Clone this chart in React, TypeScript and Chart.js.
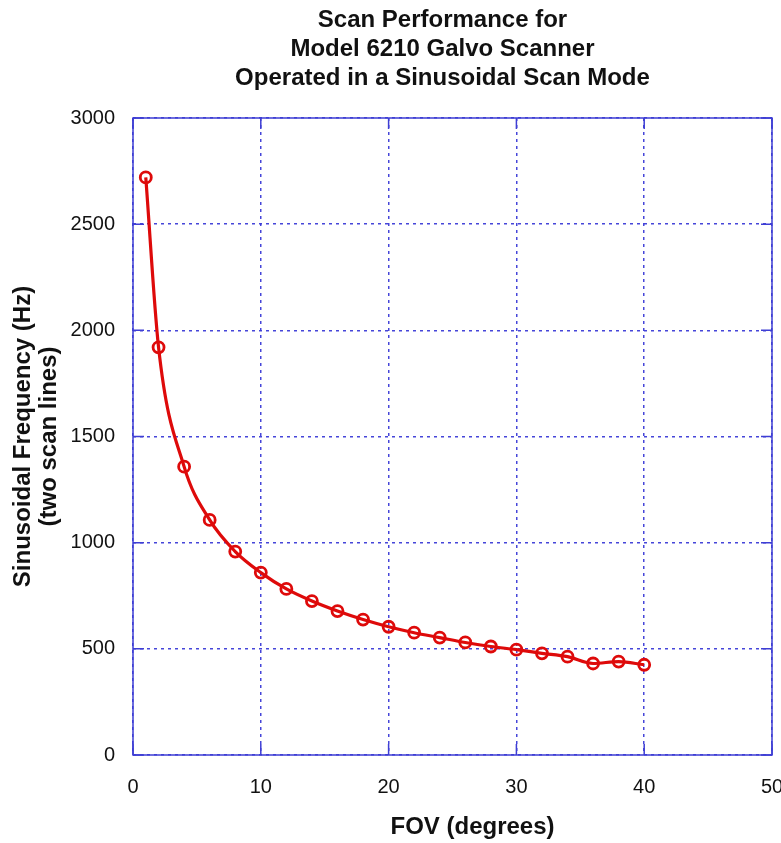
import React, { useEffect, useRef } from "react";
import { Chart, registerables } from "chart.js";

Chart.register(...registerables);

const fovDegrees = [1, 2, 4, 6, 8, 10, 12, 14, 16, 18, 20, 22, 24, 26, 28, 30, 32, 34, 36, 38, 40];
const frequencyHz = [2720, 1920, 1358, 1107, 958, 859, 782, 725, 678, 638, 604, 576, 553, 530, 511, 496, 479, 463, 431, 440, 425];
const xTicks = [0, 10, 20, 30, 40, 50];
const yTicks = [0, 500, 1000, 1500, 2000, 2500, 3000];
const titleLines = ["Scan Performance for   ", "Model 6210 Galvo Scanner   ", "Operated in a Sinusoidal Scan Mode   "];
const xTitle = "      FOV (degrees)";
const yTitleLines = ["Sinusoidal Frequency (Hz)", "(two scan lines)"];

const BLUE = "rgb(62,62,212)";
const GRID = "rgba(60,60,215,0.95)";
const RED = "rgb(222,10,10)";
const FONT = "'Liberation Sans', Arial, sans-serif";

const frameTicks = {
  id: "frameTicks",
  afterDatasetsDraw(chart: any) {
    const { ctx, chartArea, scales } = chart;
    const { left, right, top, bottom } = chartArea;
    const len = 11;
    ctx.save();
    ctx.strokeStyle = BLUE;
    ctx.lineWidth = 1.5;
    ctx.setLineDash([]);
    ctx.beginPath();
    for (const v of xTicks) {
      const px = scales.x.getPixelForValue(v);
      ctx.moveTo(px, bottom);
      ctx.lineTo(px, bottom - len);
      ctx.moveTo(px, top);
      ctx.lineTo(px, top + len);
    }
    for (const v of yTicks) {
      const py = scales.y.getPixelForValue(v);
      ctx.moveTo(left, py);
      ctx.lineTo(left + len, py);
      ctx.moveTo(right, py);
      ctx.lineTo(right - len, py);
    }
    ctx.stroke();
    ctx.strokeRect(left, top, right - left, bottom - top);
    ctx.restore();
  },
};

export default function App() {
  const ref = useRef<HTMLCanvasElement | null>(null);

  useEffect(() => {
    if (!ref.current) return;
    const points = fovDegrees.map((x, i) => ({ x, y: frequencyHz[i] }));
    const chart = new Chart(ref.current, {
      type: "line",
      data: {
        datasets: [
          {
            data: points,
            borderColor: RED,
            borderWidth: 3.2,
            backgroundColor: "rgba(0,0,0,0)",
            pointBackgroundColor: "rgba(0,0,0,0)",
            pointBorderColor: RED,
            pointBorderWidth: 2.8,
            pointRadius: 5.5,
            cubicInterpolationMode: "monotone",
            fill: false,
          },
        ],
      },
      options: {
        responsive: false,
        animation: false,
        layout: { padding: { left: 0, right: 9, top: 0, bottom: 0 } },
        plugins: {
          legend: { display: false },
          tooltip: { enabled: false },
          title: {
            display: true,
            text: titleLines,
            fullSize: false,
            color: "#111",
            font: { family: FONT, size: 24, weight: "bold", lineHeight: 1.2 },
            padding: { top: 6, bottom: 25.6 },
          },
        },
        scales: {
          x: {
            type: "linear",
            min: 0,
            max: 50,
            afterBuildTicks: (scale: any) => {
              scale.ticks = xTicks.map((v) => ({ value: v }));
            },
            afterFit: (scale: any) => {
              scale.height = 88;
              scale.paddingLeft = 0;
              scale.paddingRight = 0;
            },
            grid: {
              color: GRID,
              lineWidth: 1.5,
              drawTicks: false,
            },
            border: { display: false, dash: [3, 4] },
            ticks: {
              color: "#111",
              padding: 20,
              font: { family: FONT, size: 20 },
              callback: (v: any) => String(v),
            },
            title: {
              display: true,
              text: xTitle,
              color: "#111",
              font: { family: FONT, size: 24, weight: "bold", lineHeight: 1.2 },
              padding: { top: 0, bottom: 1 },
            },
          },
          y: {
            type: "linear",
            min: 0,
            max: 3000,
            afterBuildTicks: (scale: any) => {
              scale.ticks = yTicks.map((v) => ({ value: v }));
            },
            afterFit: (scale: any) => {
              scale.width = 133;
            },
            grid: {
              color: GRID,
              lineWidth: 1.5,
              drawTicks: false,
            },
            border: { display: false, dash: [3, 4] },
            ticks: {
              color: "#111",
              padding: 18,
              font: { family: FONT, size: 20 },
              callback: (v: any) => String(v),
            },
            title: {
              display: true,
              text: yTitleLines,
              color: "#111",
              font: { family: FONT, size: 24, weight: "bold", lineHeight: 1.085 },
              padding: { top: 10, bottom: 0 },
            },
          },
        },
      },
      plugins: [frameTicks],
    });
    return () => chart.destroy();
  }, []);

  return (
    <div style={{ position: "absolute", left: 0, top: 0, width: 781, height: 843, background: "#fff" }}>
      <canvas ref={ref} width={781} height={843} />
    </div>
  );
}
